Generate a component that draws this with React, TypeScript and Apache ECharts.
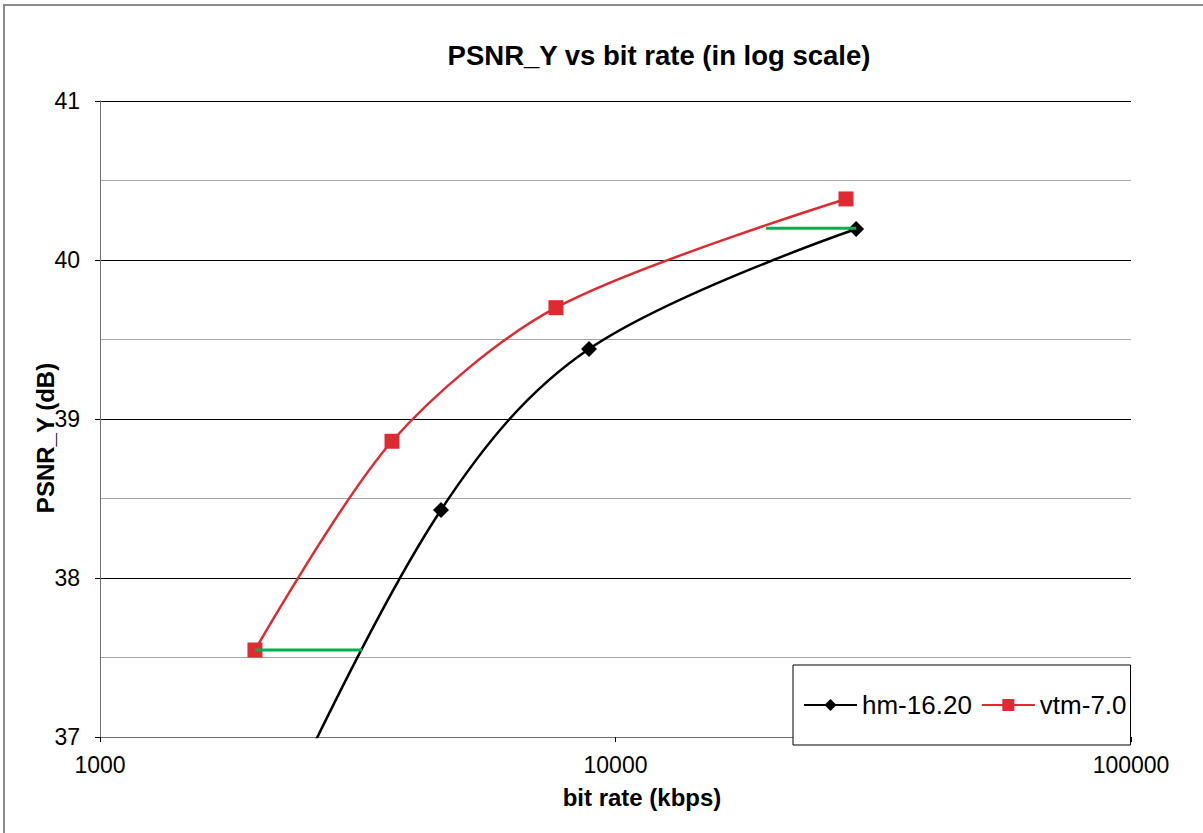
import React, { useEffect, useRef } from "react";
import * as echarts from "echarts";

const hmBitrate = [29290, 8884, 4586, 2230];
const hmPsnr = [40.195, 39.44, 38.428, 36.5];
const vtmBitrate = [28000, 7665, 3685, 1998];
const vtmPsnr = [40.384, 39.7, 38.86, 37.547];
const gapLowX = [1998, 3225];
const gapLowY = [37.547, 37.547];
const gapHighX = [19590, 29290];
const gapHighY = [40.2, 40.2];
const seriesNames = ["hm-16.20", "vtm-7.0"];
const title = "PSNR_Y vs bit rate (in log scale)";
const xName = "bit rate (kbps)";
const yName = "PSNR_Y (dB)";

const FONT = "'Liberation Sans', Arial, sans-serif";

export default function App() {
  const ref = useRef<HTMLDivElement>(null);
  useEffect(() => {
    const chart = echarts.init(ref.current!, null, { renderer: "svg" });
    const zip = (xs: number[], ys: number[]) => xs.map((x, i) => [x, ys[i]]);
    chart.setOption({
      animation: false,
      backgroundColor: "#fff",
      textStyle: { fontFamily: FONT },
      title: {
        text: title,
        left: 654,
        top: 36,
        textAlign: "center",
        textStyle: { fontSize: 27.5, fontWeight: "bold", color: "#000", fontFamily: FONT },
      },
      grid: { left: 100, top: 101, right: 72, bottom: 96 },
      legend: {
        data: seriesNames,
        left: 793,
        top: 665,
        orient: "horizontal",
        backgroundColor: "#fff",
        borderColor: "#000",
        borderWidth: 1,
        borderRadius: 0,
        padding: [27, 4, 27, 10],
        itemWidth: 53,
        itemHeight: 15,
        itemGap: 9,
        textStyle: { fontSize: 26, color: "#000", fontFamily: FONT },
      },
      xAxis: {
        type: "log",
        logBase: 10,
        min: 1000,
        max: 100000,
        axisLine: { show: true, lineStyle: { color: "#6e6e6e", width: 1 } },
        axisTick: { show: true, length: 5, lineStyle: { color: "#000" } },
        axisLabel: {
          fontSize: 23,
          color: "#000",
          margin: 16,
          fontFamily: FONT,
          formatter: (v: number) => String(Math.round(v)),
        },
        splitLine: { show: false },
      },
      yAxis: {
        type: "value",
        min: 37,
        max: 41,
        interval: 1,
        axisLine: { show: true, lineStyle: { color: "#6e6e6e", width: 1 } },
        axisTick: { show: true, length: 5, lineStyle: { color: "#000" } },
        axisLabel: { fontSize: 23, color: "#000", margin: 20, fontFamily: FONT },
        splitLine: { show: true, lineStyle: { color: "#000", width: 1 } },
        minorTick: { show: false, splitNumber: 2 },
        minorSplitLine: { show: true, lineStyle: { color: "#a6a6a6", width: 1 } },
      },
      graphic: [
        {
          type: "rect",
          shape: { x: 4, y: 5, width: 1400, height: 1000 },
          style: { fill: "none", stroke: "#8c8c8c", lineWidth: 2 },
          silent: true,
        },
        {
          type: "text",
          x: 642,
          y: 797,
          style: {
            text: xName,
            fontSize: 24,
            fontWeight: "bold",
            fill: "#000",
            fontFamily: FONT,
            textAlign: "center",
            textVerticalAlign: "middle",
          },
        },
        {
          type: "text",
          x: 45,
          y: 438,
          rotation: Math.PI / 2,
          style: {
            text: yName,
            fontSize: 24,
            fontWeight: "bold",
            fill: "#000",
            fontFamily: FONT,
            textAlign: "center",
            textVerticalAlign: "middle",
          },
        },
      ],
      series: [
        {
          name: seriesNames[0],
          type: "line",
          data: zip(hmBitrate, hmPsnr),
          smooth: 0.35,
          symbol: "diamond",
          symbolSize: 16,
          itemStyle: { color: "#000" },
          lineStyle: { color: "#000", width: 2.5 },
          z: 3,
        },
        {
          name: seriesNames[1],
          type: "line",
          data: zip(vtmBitrate, vtmPsnr),
          smooth: 0.3,
          symbol: "rect",
          symbolSize: 15,
          itemStyle: { color: "#e02a32" },
          lineStyle: { color: "#e02a32", width: 2.5 },
          z: 3,
        },
        {
          name: "gap-low",
          type: "line",
          data: zip(gapLowX, gapLowY),
          showSymbol: false,
          symbol: "none",
          itemStyle: { color: "#00b050" },
          lineStyle: { color: "#00b050", width: 3 },
          z: 4,
          silent: true,
        },
        {
          name: "gap-high",
          type: "line",
          data: zip(gapHighX, gapHighY),
          showSymbol: false,
          symbol: "none",
          itemStyle: { color: "#00b050" },
          lineStyle: { color: "#00b050", width: 3 },
          z: 4,
          silent: true,
        },
      ],
    });
    return () => chart.dispose();
  }, []);
  return (
    <div
      ref={ref}
      style={{ position: "absolute", left: 0, top: 0, width: 1203, height: 833, background: "#fff" }}
    />
  );
}
